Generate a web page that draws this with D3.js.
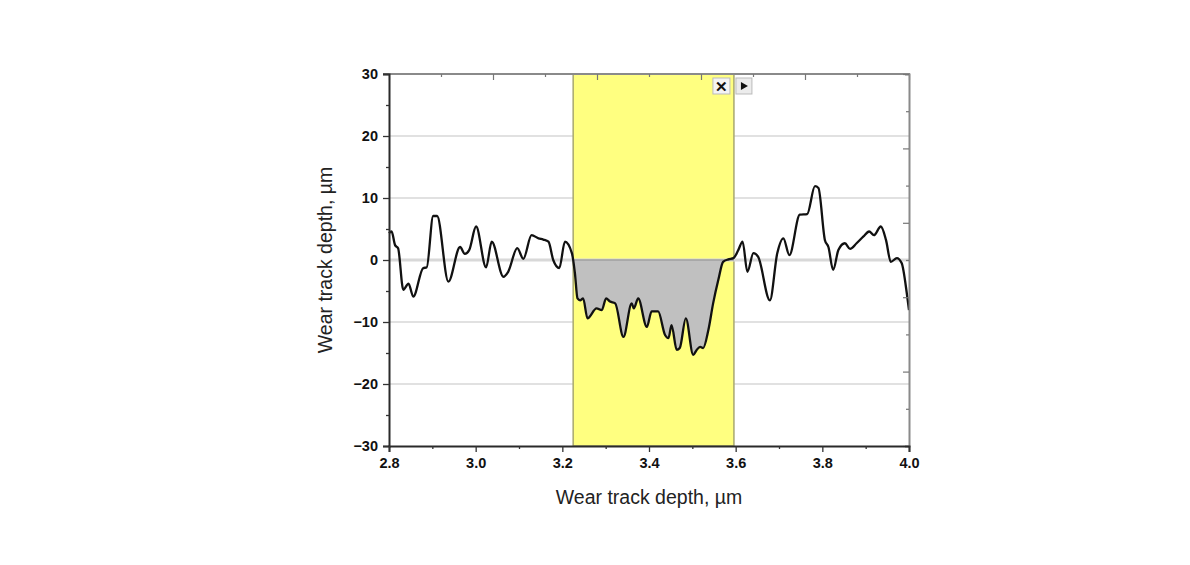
<!DOCTYPE html>
<html>
<head>
<meta charset="utf-8">
<script src="https://cdn.jsdelivr.net/npm/d3@7"></script>
<style>
  body { margin: 0; background: #fff; }
  svg { display: block; font-family: Arial, "Liberation Sans", sans-serif; }
</style>
</head>
<body>
<div id="chart"></div>
<script>
// profile
const depthX = [2.800, 2.806, 2.814, 2.821, 2.833, 2.845, 2.856, 2.879, 2.887, 2.902, 2.911, 2.937, 2.964, 2.975, 2.985,
  3.001, 3.024, 3.037, 3.064, 3.075, 3.096, 3.110, 3.129, 3.145, 3.156, 3.168, 3.179, 3.193, 3.206, 3.222, 3.229,
  3.235, 3.241, 3.248, 3.258, 3.279, 3.291, 3.301, 3.310, 3.322, 3.341, 3.360, 3.365, 3.375, 3.395, 3.406, 3.421,
  3.437, 3.445, 3.452, 3.464, 3.471, 3.485, 3.502, 3.510, 3.518, 3.525, 3.537, 3.548, 3.560, 3.571, 3.583, 3.595,
  3.606, 3.616, 3.627, 3.641, 3.652, 3.679, 3.696, 3.710, 3.724, 3.748, 3.765, 3.783, 3.791, 3.806, 3.814, 3.825,
  3.837, 3.852, 3.864, 3.879, 3.895, 3.908, 3.919, 3.935, 3.947, 3.958, 3.972, 3.983, 3.995, 4.000];
const depthY = [4.3, 4.6, 2.4, 1.9, -4.8, -3.8, -5.9, -1.3, -1.2, 7.1, 7.1, -3.5, 2.1, 1.0, 1.6,
  5.4, -1.2, 2.95, -2.7, -1.9, 1.9, 0.2, 4.0, 3.5, 3.3, 2.95, 0.0, -1.3, 2.95, 1.1, -2.1,
  -6.2, -6.5, -6.2, -9.4, -7.8, -8.1, -6.2, -6.7, -7.0, -12.4, -7.0, -7.8, -6.2, -10.8, -8.3, -8.3,
  -12.1, -12.6, -10.5, -14.5, -14.2, -9.4, -15.3, -14.5, -14.0, -14.2, -11.3, -7.0, -3.2, -0.3, 0.1, 0.3,
  1.6, 2.95, -1.9, 1.1, 0.5, -6.5, 1.1, 3.5, 0.8, 7.3, 7.4, 11.9, 11.6, 3.2, 2.1, -1.6,
  1.6, 2.7, 1.8, 2.7, 3.8, 4.6, 4.0, 5.4, 3.2, -0.3, 0.3, -0.5, -5.4, -8.1];

const xTicks = [2.8, 3.0, 3.2, 3.4, 3.6, 3.8, 4.0];
const yTicks = [-30, -20, -10, 0, 10, 20, 30];
const gridValues = [-20, -10, 10, 20];
const band = [3.225, 3.596];

const width = 1190, height = 565;
const margin = { top: 74, right: 281, bottom: 119, left: 389 };
const innerW = width - margin.left - margin.right;
const innerH = height - margin.top - margin.bottom;

const data = depthX.map((x, i) => ({ x, y: depthY[i] }));

const svg = d3.select('#chart')
  .append('svg')
  .attr('width', width)
  .attr('height', height);

const g = svg.append('g')
  .attr('transform', `translate(${margin.left},${margin.top})`);

const x = d3.scaleLinear().domain([2.8, 4.0]).range([0, innerW]);
const y = d3.scaleLinear().domain([-30, 30]).range([innerH, 0]);
// top / right frame of the second layer: 10 divisions each
const xFrame = d3.scaleLinear().domain([0, 10]).range([0, innerW]);
const yFrame = d3.scaleLinear().domain([0, 10]).range([0, innerH]);

// horizontal grid
g.append('g')
  .selectAll('line')
  .data(gridValues)
  .enter()
  .append('line')
    .attr('x1', 0).attr('x2', innerW)
    .attr('y1', (d) => y(d)).attr('y2', (d) => y(d))
    .attr('stroke', '#c4c4c4')
    .attr('stroke-width', 1.2);

// highlighted band
g.append('rect')
  .attr('x', x(band[0]))
  .attr('y', 0)
  .attr('width', x(band[1]) - x(band[0]))
  .attr('height', innerH)
  .attr('fill', '#ffff80')
  .attr('stroke', '#a8a870')
  .attr('stroke-width', 1.5);

// zero line
g.append('line')
  .attr('x1', 0).attr('x2', innerW)
  .attr('y1', y(0)).attr('y2', y(0))
  .attr('stroke', '#d8d8d8')
  .attr('stroke-width', 3);

// integrated area below zero inside the band
g.append('clipPath')
  .attr('id', 'bandClip')
  .append('rect')
    .attr('x', x(band[0]))
    .attr('y', 0)
    .attr('width', x(band[1]) - x(band[0]))
    .attr('height', innerH);

g.append('path')
  .datum(data)
  .attr('clip-path', 'url(#bandClip)')
  .attr('fill', '#c0c0c0')
  .attr('d', d3.area()
    .x((d) => x(d.x))
    .y0(y(0))
    .y1((d) => y(Math.min(d.y, 0)))
    .curve(d3.curveMonotoneX));

g.append('path')
  .datum(data)
  .attr('clip-path', 'url(#bandClip)')
  .attr('fill', 'none')
  .attr('stroke', '#a0a0a0')
  .attr('stroke-width', 1.5)
  .attr('d', `M${x(band[0])},${y(0)}H${x(band[1])}`);

// profile line
g.append('path')
  .datum(data)
  .attr('fill', 'none')
  .attr('stroke', '#111')
  .attr('stroke-width', 2.3)
  .attr('stroke-linejoin', 'round')
  .attr('d', d3.line()
    .x((d) => x(d.x))
    .y((d) => y(d.y))
    .curve(d3.curveMonotoneX));

// top and right frame (gray, ticks inward)
const topAxis = g.append('g')
  .call(d3.axisBottom(xFrame).tickValues(d3.range(0, 11)).tickSize(4).tickFormat(''));
topAxis.selectAll('.tick line').attr('y2', (d) => d % 2 === 0 ? 6 : 3);

const rightAxis = g.append('g')
  .attr('transform', `translate(${innerW},0)`)
  .call(d3.axisLeft(yFrame).tickValues(d3.range(0, 11)).tickSize(4).tickFormat(''));
rightAxis.selectAll('.tick line').attr('x2', (d) => d % 2 === 0 ? -6 : -3);

[topAxis, rightAxis].forEach((a) => {
  a.select('.domain').attr('stroke', '#8a8a8a').attr('stroke-width', 2);
  a.selectAll('.tick line').attr('stroke', '#777').attr('stroke-width', 1.2);
});
topAxis.select('.domain').attr('d', `M-6,0H${innerW + 1}`);

// left axis
const leftAxis = g.append('g')
  .call(d3.axisLeft(y).tickValues(yTicks).tickSize(6).tickPadding(5));
g.append('g')
  .call(d3.axisLeft(y).tickValues([-25, -15, -5, 5, 15, 25]).tickSize(3).tickFormat(''))
  .select('.domain').remove();

// bottom axis
const bottomAxis = g.append('g')
  .attr('transform', `translate(0,${innerH})`)
  .call(d3.axisBottom(x).tickValues(xTicks).tickSize(6).tickPadding(6).tickFormat(d3.format('.1f')));
g.append('g')
  .attr('transform', `translate(0,${innerH})`)
  .call(d3.axisBottom(x).tickValues([2.9, 3.1, 3.3, 3.5, 3.7, 3.9]).tickSize(3).tickFormat(''))
  .select('.domain').remove();

g.selectAll('.domain').filter(function () {
  return this.parentNode === leftAxis.node() || this.parentNode === bottomAxis.node();
}).attr('stroke', '#2a2a2a').attr('stroke-width', 2);
g.selectAll('.tick line').filter(function () {
  const p = this.parentNode.parentNode;
  return p !== topAxis.node() && p !== rightAxis.node();
}).attr('stroke', '#333').attr('stroke-width', 1.3);

g.selectAll('.tick text')
  .attr('fill', '#111')
  .style('font-size', '14.5px')
  .style('font-weight', 'bold');

// axis titles
svg.append('text')
  .attr('x', margin.left + innerW / 2)
  .attr('y', 504)
  .attr('text-anchor', 'middle')
  .attr('fill', '#222')
  .style('font-size', '19.5px')
  .text('Wear track depth, µm');

svg.append('text')
  .attr('transform', `translate(332,${margin.top + innerH / 2}) rotate(-90)`)
  .attr('text-anchor', 'middle')
  .attr('fill', '#222')
  .style('font-size', '19.5px')
  .text('Wear track depth, µm');

// small band buttons at top right of the band
const btn = svg.append('g')
  .attr('transform', `translate(${margin.left + x(band[1])},${margin.top})`);
btn.append('rect')
  .attr('x', -21).attr('y', 4).attr('width', 17).attr('height', 16)
  .attr('fill', '#f4f4f4').attr('stroke', '#bbb');
btn.append('text')
  .attr('x', -12.5).attr('y', 17.5)
  .attr('text-anchor', 'middle')
  .style('font-size', '15px').style('font-weight', 'bold')
  .attr('fill', '#111')
  .text('✕');
btn.append('rect')
  .attr('x', 2).attr('y', 4).attr('width', 16).attr('height', 16)
  .attr('fill', '#ececec').attr('stroke', '#bbb');
btn.append('path')
  .attr('d', 'M7,8L14,12L7,16Z')
  .attr('fill', '#111');
</script>
</body>
</html>
